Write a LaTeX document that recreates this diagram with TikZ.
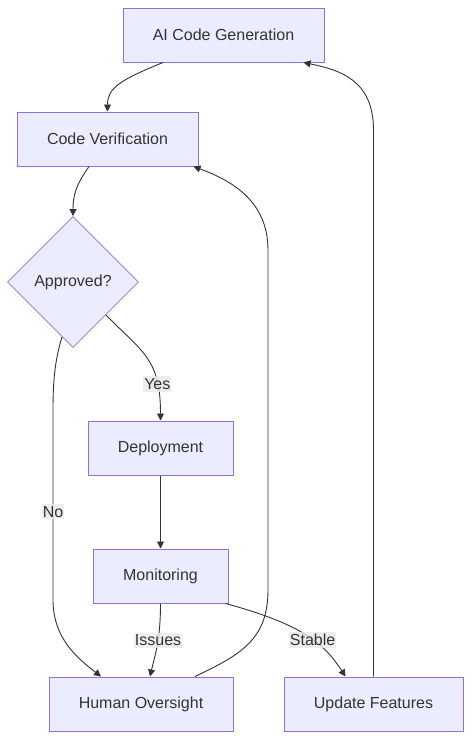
\documentclass[tikz,border=0pt]{standalone}
\usepackage{fontspec}
\setmainfont{Liberation Sans}
\usetikzlibrary{arrows.meta,shapes.geometric}
\definecolor{boxfill}{HTML}{ECECFF}
\definecolor{boxline}{HTML}{9370DB}
\definecolor{ink}{HTML}{333333}
\definecolor{lblfill}{HTML}{E8E8E8}
\begin{document}
\begin{tikzpicture}[x=1pt,y=-1pt,
  box/.style={draw=boxline,fill=boxfill,line width=1pt,inner sep=0pt,minimum height=54pt,text=ink,font=\fontsize{16}{19}\selectfont},
  decision/.style={diamond,aspect=1,draw=boxline,fill=boxfill,line width=0.8pt,inner sep=0pt,minimum width=131pt,minimum height=131pt,text=ink,font=\fontsize{16}{19}\selectfont},
  link/.style={draw=ink,line width=0.9pt,-{Triangle[length=7pt,width=7pt]}},
  lbl/.style={fill=lblfill,fill opacity=0.8,text opacity=1,text=ink,inner xsep=1pt,inner ysep=2pt,font=\fontsize{16}{19}\selectfont}]
\useasboundingbox (0,0) rectangle (472,739);
\coordinate (G) at (223.5,35);
\coordinate (V) at (107.5,139);
\coordinate (A) at (73,282);
\coordinate (D) at (160.5,448);
\coordinate (M) at (160.5,576);
\coordinate (H) at (141,704);
\coordinate (U) at (373.5,704);
\node[box,minimum width=201pt] (gen) at (G) {AI Code Generation};
\node[box,minimum width=181pt] (ver) at (V) {Code Verification};
\node[decision] (approved) at (A) {Approved?};
\node[box,minimum width=145pt] (deploy) at (D) {Deployment};
\node[box,minimum width=135pt] (monitor) at (M) {Monitoring};
\node[box,minimum width=184pt] (human) at (H) {Human Oversight};
\node[box,minimum width=179pt] (update) at (U) {Update Features};
\draw[link] ([xshift=-60.5pt]gen.south) .. controls (120,80) and (107.5,88) .. (ver.north);
\draw[link] ([xshift=-18.5pt]ver.south) .. controls (76,185) and (73,195) .. (approved.north);
\draw[link] (approved.south east) .. controls (142,352) and (160.5,358) .. (deploy.north)
  node[lbl,pos=0.76] {Yes};
\draw[link] ([xshift=-11pt,yshift=11pt]approved.south) .. controls (55,360) and (53,380) .. (53,410) -- (53,600)
  node[lbl,pos=0.535] {No}
  .. controls (53,640) and (80,660) .. ([xshift=-40pt]human.north);
\draw[link] (deploy.south) -- (monitor.north);
\draw[link] (monitor.south) .. controls (160.5,640) and (155,655) .. ([xshift=9pt]human.north)
  node[lbl,pos=0.42] {Issues};
\draw[link] ([xshift=-3pt]monitor.south east) .. controls (305,625) and (325,645) .. ([xshift=-28pt]update.north)
  node[lbl,pos=0.55] {Stable};
\draw[link] ([xshift=54pt]human.north) .. controls (240,655) and (268,640) .. (268,590) -- (268,250)
  .. controls (268,200) and (230,180) .. ([xshift=-5pt]ver.south east);
\draw[link] (update.north) -- (373.5,130) .. controls (373.5,80) and (340,70) .. ([xshift=-21pt]gen.south east);
\end{tikzpicture}
\end{document}
